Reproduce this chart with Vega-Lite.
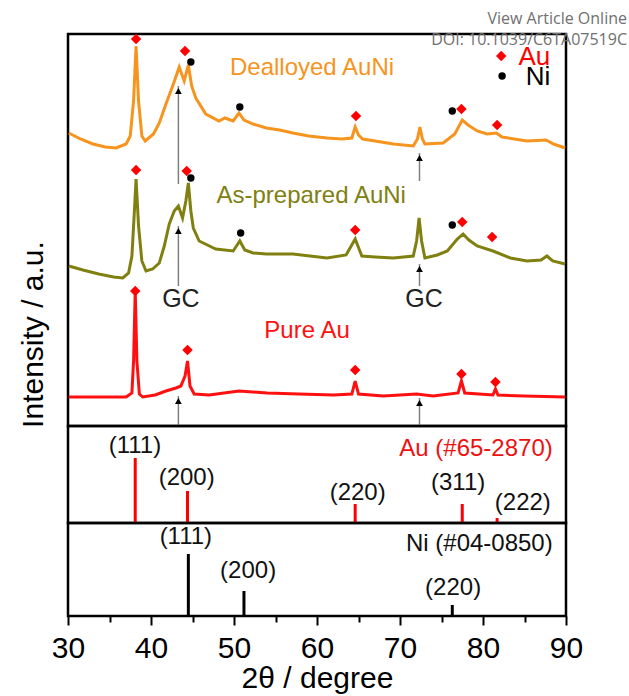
{
  "$schema": "https://vega.github.io/schema/vega-lite/v6.json",
  "padding": {"left": 16, "top": 9, "right": 1, "bottom": 0},
  "spacing": 0,
  "bounds": "flush",
  "config": {
    "view": {"stroke": "#000", "strokeWidth": 2.5},
    "font": "Liberation Sans",
    "text": {"font": "Liberation Sans"},
    "axisY": {"labels": false, "ticks": false, "domain": false, "grid": false},
    "axisX": {"grid": false, "domain": false}
  },
  "datasets": {
    "curves": [
      {"sample": "Dealloyed AuNi", "two_theta": 30.1, "intensity": 293},
      {"sample": "Dealloyed AuNi", "two_theta": 31.5, "intensity": 287},
      {"sample": "Dealloyed AuNi", "two_theta": 33.0, "intensity": 282},
      {"sample": "Dealloyed AuNi", "two_theta": 34.5, "intensity": 279},
      {"sample": "Dealloyed AuNi", "two_theta": 35.8, "intensity": 278},
      {"sample": "Dealloyed AuNi", "two_theta": 37.0, "intensity": 282},
      {"sample": "Dealloyed AuNi", "two_theta": 37.5, "intensity": 290},
      {"sample": "Dealloyed AuNi", "two_theta": 37.9, "intensity": 325},
      {"sample": "Dealloyed AuNi", "two_theta": 38.2, "intensity": 380},
      {"sample": "Dealloyed AuNi", "two_theta": 38.5, "intensity": 325},
      {"sample": "Dealloyed AuNi", "two_theta": 38.9, "intensity": 290},
      {"sample": "Dealloyed AuNi", "two_theta": 39.3, "intensity": 285},
      {"sample": "Dealloyed AuNi", "two_theta": 40.3, "intensity": 292},
      {"sample": "Dealloyed AuNi", "two_theta": 41.0, "intensity": 303},
      {"sample": "Dealloyed AuNi", "two_theta": 41.8, "intensity": 322},
      {"sample": "Dealloyed AuNi", "two_theta": 42.7, "intensity": 342},
      {"sample": "Dealloyed AuNi", "two_theta": 43.4, "intensity": 359},
      {"sample": "Dealloyed AuNi", "two_theta": 44.0, "intensity": 345},
      {"sample": "Dealloyed AuNi", "two_theta": 44.5, "intensity": 361},
      {"sample": "Dealloyed AuNi", "two_theta": 44.9, "intensity": 340},
      {"sample": "Dealloyed AuNi", "two_theta": 45.4, "intensity": 328},
      {"sample": "Dealloyed AuNi", "two_theta": 46.6, "intensity": 312},
      {"sample": "Dealloyed AuNi", "two_theta": 48.2, "intensity": 305},
      {"sample": "Dealloyed AuNi", "two_theta": 48.9, "intensity": 308},
      {"sample": "Dealloyed AuNi", "two_theta": 49.9, "intensity": 305},
      {"sample": "Dealloyed AuNi", "two_theta": 50.6, "intensity": 313},
      {"sample": "Dealloyed AuNi", "two_theta": 51.2, "intensity": 306},
      {"sample": "Dealloyed AuNi", "two_theta": 52.3, "intensity": 302},
      {"sample": "Dealloyed AuNi", "two_theta": 53.9, "intensity": 298},
      {"sample": "Dealloyed AuNi", "two_theta": 55.5, "intensity": 296},
      {"sample": "Dealloyed AuNi", "two_theta": 57.1, "intensity": 293},
      {"sample": "Dealloyed AuNi", "two_theta": 59.0, "intensity": 290},
      {"sample": "Dealloyed AuNi", "two_theta": 61.2, "intensity": 288},
      {"sample": "Dealloyed AuNi", "two_theta": 63.0, "intensity": 287},
      {"sample": "Dealloyed AuNi", "two_theta": 64.2, "intensity": 288},
      {"sample": "Dealloyed AuNi", "two_theta": 64.6, "intensity": 299},
      {"sample": "Dealloyed AuNi", "two_theta": 65.0, "intensity": 291},
      {"sample": "Dealloyed AuNi", "two_theta": 65.5, "intensity": 287},
      {"sample": "Dealloyed AuNi", "two_theta": 67.0, "intensity": 285},
      {"sample": "Dealloyed AuNi", "two_theta": 69.2, "intensity": 282},
      {"sample": "Dealloyed AuNi", "two_theta": 71.6, "intensity": 280},
      {"sample": "Dealloyed AuNi", "two_theta": 72.1, "intensity": 287},
      {"sample": "Dealloyed AuNi", "two_theta": 72.4, "intensity": 299},
      {"sample": "Dealloyed AuNi", "two_theta": 72.7, "intensity": 287},
      {"sample": "Dealloyed AuNi", "two_theta": 73.0, "intensity": 282},
      {"sample": "Dealloyed AuNi", "two_theta": 75.2, "intensity": 283},
      {"sample": "Dealloyed AuNi", "two_theta": 76.6, "intensity": 292},
      {"sample": "Dealloyed AuNi", "two_theta": 77.5, "intensity": 306},
      {"sample": "Dealloyed AuNi", "two_theta": 78.2, "intensity": 301},
      {"sample": "Dealloyed AuNi", "two_theta": 79.3, "intensity": 295},
      {"sample": "Dealloyed AuNi", "two_theta": 80.5, "intensity": 292},
      {"sample": "Dealloyed AuNi", "two_theta": 81.6, "intensity": 293},
      {"sample": "Dealloyed AuNi", "two_theta": 82.3, "intensity": 289},
      {"sample": "Dealloyed AuNi", "two_theta": 85.3, "intensity": 285},
      {"sample": "Dealloyed AuNi", "two_theta": 87.6, "intensity": 286},
      {"sample": "Dealloyed AuNi", "two_theta": 88.5, "intensity": 282},
      {"sample": "Dealloyed AuNi", "two_theta": 89.9, "intensity": 278},
      {"sample": "As-prepared AuNi", "two_theta": 30.1, "intensity": 160},
      {"sample": "As-prepared AuNi", "two_theta": 31.8, "intensity": 156},
      {"sample": "As-prepared AuNi", "two_theta": 33.7, "intensity": 152},
      {"sample": "As-prepared AuNi", "two_theta": 35.5, "intensity": 149},
      {"sample": "As-prepared AuNi", "two_theta": 36.6, "intensity": 148},
      {"sample": "As-prepared AuNi", "two_theta": 37.3, "intensity": 153},
      {"sample": "As-prepared AuNi", "two_theta": 37.7, "intensity": 170},
      {"sample": "As-prepared AuNi", "two_theta": 38.0, "intensity": 215},
      {"sample": "As-prepared AuNi", "two_theta": 38.2, "intensity": 247},
      {"sample": "As-prepared AuNi", "two_theta": 38.5, "intensity": 200},
      {"sample": "As-prepared AuNi", "two_theta": 38.9, "intensity": 165},
      {"sample": "As-prepared AuNi", "two_theta": 39.4, "intensity": 155},
      {"sample": "As-prepared AuNi", "two_theta": 40.2, "intensity": 157},
      {"sample": "As-prepared AuNi", "two_theta": 41.0, "intensity": 163},
      {"sample": "As-prepared AuNi", "two_theta": 41.6, "intensity": 180},
      {"sample": "As-prepared AuNi", "two_theta": 42.2, "intensity": 202},
      {"sample": "As-prepared AuNi", "two_theta": 42.8, "intensity": 215},
      {"sample": "As-prepared AuNi", "two_theta": 43.3, "intensity": 220},
      {"sample": "As-prepared AuNi", "two_theta": 43.8, "intensity": 208},
      {"sample": "As-prepared AuNi", "two_theta": 44.2, "intensity": 225},
      {"sample": "As-prepared AuNi", "two_theta": 44.5, "intensity": 243},
      {"sample": "As-prepared AuNi", "two_theta": 44.8, "intensity": 215},
      {"sample": "As-prepared AuNi", "two_theta": 45.1, "intensity": 198},
      {"sample": "As-prepared AuNi", "two_theta": 45.8, "intensity": 185},
      {"sample": "As-prepared AuNi", "two_theta": 47.8, "intensity": 177},
      {"sample": "As-prepared AuNi", "two_theta": 49.9, "intensity": 175},
      {"sample": "As-prepared AuNi", "two_theta": 50.7, "intensity": 185},
      {"sample": "As-prepared AuNi", "two_theta": 51.3, "intensity": 176},
      {"sample": "As-prepared AuNi", "two_theta": 52.3, "intensity": 173},
      {"sample": "As-prepared AuNi", "two_theta": 53.9, "intensity": 172},
      {"sample": "As-prepared AuNi", "two_theta": 57.1, "intensity": 172},
      {"sample": "As-prepared AuNi", "two_theta": 61.2, "intensity": 168},
      {"sample": "As-prepared AuNi", "two_theta": 63.5, "intensity": 171},
      {"sample": "As-prepared AuNi", "two_theta": 64.6, "intensity": 187},
      {"sample": "As-prepared AuNi", "two_theta": 65.4, "intensity": 170},
      {"sample": "As-prepared AuNi", "two_theta": 67.0, "intensity": 169},
      {"sample": "As-prepared AuNi", "two_theta": 69.2, "intensity": 168},
      {"sample": "As-prepared AuNi", "two_theta": 71.6, "intensity": 170},
      {"sample": "As-prepared AuNi", "two_theta": 72.0, "intensity": 185},
      {"sample": "As-prepared AuNi", "two_theta": 72.3, "intensity": 208},
      {"sample": "As-prepared AuNi", "two_theta": 72.6, "intensity": 185},
      {"sample": "As-prepared AuNi", "two_theta": 73.0, "intensity": 168},
      {"sample": "As-prepared AuNi", "two_theta": 74.5, "intensity": 171},
      {"sample": "As-prepared AuNi", "two_theta": 75.7, "intensity": 175},
      {"sample": "As-prepared AuNi", "two_theta": 76.9, "intensity": 187},
      {"sample": "As-prepared AuNi", "two_theta": 77.6, "intensity": 192},
      {"sample": "As-prepared AuNi", "two_theta": 78.3, "intensity": 186},
      {"sample": "As-prepared AuNi", "two_theta": 79.3, "intensity": 180},
      {"sample": "As-prepared AuNi", "two_theta": 81.2, "intensity": 175},
      {"sample": "As-prepared AuNi", "two_theta": 83.3, "intensity": 168},
      {"sample": "As-prepared AuNi", "two_theta": 85.3, "intensity": 165},
      {"sample": "As-prepared AuNi", "two_theta": 87.0, "intensity": 166},
      {"sample": "As-prepared AuNi", "two_theta": 87.7, "intensity": 170},
      {"sample": "As-prepared AuNi", "two_theta": 88.4, "intensity": 165},
      {"sample": "As-prepared AuNi", "two_theta": 89.9, "intensity": 162},
      {"sample": "Pure Au", "two_theta": 30.1, "intensity": 29},
      {"sample": "Pure Au", "two_theta": 35.0, "intensity": 29},
      {"sample": "Pure Au", "two_theta": 37.0, "intensity": 29},
      {"sample": "Pure Au", "two_theta": 37.7, "intensity": 33},
      {"sample": "Pure Au", "two_theta": 37.9, "intensity": 65},
      {"sample": "Pure Au", "two_theta": 38.1, "intensity": 135},
      {"sample": "Pure Au", "two_theta": 38.3, "intensity": 65},
      {"sample": "Pure Au", "two_theta": 38.6, "intensity": 32},
      {"sample": "Pure Au", "two_theta": 39.0, "intensity": 29},
      {"sample": "Pure Au", "two_theta": 40.5, "intensity": 31},
      {"sample": "Pure Au", "two_theta": 41.8, "intensity": 35},
      {"sample": "Pure Au", "two_theta": 43.0, "intensity": 38},
      {"sample": "Pure Au", "two_theta": 43.6, "intensity": 40},
      {"sample": "Pure Au", "two_theta": 44.1, "intensity": 50},
      {"sample": "Pure Au", "two_theta": 44.4, "intensity": 65},
      {"sample": "Pure Au", "two_theta": 44.7, "intensity": 40},
      {"sample": "Pure Au", "two_theta": 45.2, "intensity": 32},
      {"sample": "Pure Au", "two_theta": 47.0, "intensity": 31},
      {"sample": "Pure Au", "two_theta": 50.6, "intensity": 35},
      {"sample": "Pure Au", "two_theta": 54.0, "intensity": 33},
      {"sample": "Pure Au", "two_theta": 57.8, "intensity": 32},
      {"sample": "Pure Au", "two_theta": 62.0, "intensity": 31},
      {"sample": "Pure Au", "two_theta": 64.2, "intensity": 32},
      {"sample": "Pure Au", "two_theta": 64.6, "intensity": 45},
      {"sample": "Pure Au", "two_theta": 65.0, "intensity": 32},
      {"sample": "Pure Au", "two_theta": 68.0, "intensity": 30},
      {"sample": "Pure Au", "two_theta": 72.0, "intensity": 32},
      {"sample": "Pure Au", "two_theta": 74.0, "intensity": 30},
      {"sample": "Pure Au", "two_theta": 77.0, "intensity": 33},
      {"sample": "Pure Au", "two_theta": 77.4, "intensity": 45},
      {"sample": "Pure Au", "two_theta": 77.8, "intensity": 33},
      {"sample": "Pure Au", "two_theta": 81.2, "intensity": 31},
      {"sample": "Pure Au", "two_theta": 81.5, "intensity": 37},
      {"sample": "Pure Au", "two_theta": 81.8, "intensity": 31},
      {"sample": "Pure Au", "two_theta": 85.0, "intensity": 30},
      {"sample": "Pure Au", "two_theta": 89.9, "intensity": 29}
    ],
    "markers": [
      {"phase": "Au", "two_theta": 38.2, "intensity": 387},
      {"phase": "Au", "two_theta": 44.1, "intensity": 375},
      {"phase": "Ni", "two_theta": 44.8, "intensity": 364},
      {"phase": "Ni", "two_theta": 50.7, "intensity": 319},
      {"phase": "Au", "two_theta": 64.7, "intensity": 310},
      {"phase": "Ni", "two_theta": 76.3, "intensity": 315},
      {"phase": "Au", "two_theta": 77.4, "intensity": 317},
      {"phase": "Au", "two_theta": 81.7, "intensity": 301},
      {"phase": "Au", "two_theta": 38.2, "intensity": 256},
      {"phase": "Au", "two_theta": 44.3, "intensity": 255},
      {"phase": "Ni", "two_theta": 44.8, "intensity": 248},
      {"phase": "Ni", "two_theta": 50.8, "intensity": 193},
      {"phase": "Au", "two_theta": 64.6, "intensity": 196},
      {"phase": "Ni", "two_theta": 76.3, "intensity": 201},
      {"phase": "Au", "two_theta": 77.5, "intensity": 204},
      {"phase": "Au", "two_theta": 81.1, "intensity": 189},
      {"phase": "Au", "two_theta": 38.1, "intensity": 135},
      {"phase": "Au", "two_theta": 44.4, "intensity": 76},
      {"phase": "Au", "two_theta": 64.6, "intensity": 56},
      {"phase": "Au", "two_theta": 77.4, "intensity": 52},
      {"phase": "Au", "two_theta": 81.5, "intensity": 44},
      {"phase": "Au", "two_theta": 82.2, "intensity": 370},
      {"phase": "Ni", "two_theta": 82.3, "intensity": 350}
    ],
    "arrows": [
      {"two_theta": 43.3, "tip": 340, "base": 242},
      {"two_theta": 43.3, "tip": 200, "base": 140},
      {"two_theta": 43.3, "tip": 30, "base": 0},
      {"two_theta": 72.35, "tip": 273, "base": 245},
      {"two_theta": 72.35, "tip": 162, "base": 140},
      {"two_theta": 72.35, "tip": 28, "base": 0}
    ],
    "au_ref": [
      {"hkl": "(111)", "two_theta": 38.1, "rel": 65, "label_x": 38.07, "label_y": 77},
      {"hkl": "(200)", "two_theta": 44.4, "rel": 32, "label_x": 44.3, "label_y": 45},
      {"hkl": "(220)", "two_theta": 64.6, "rel": 19, "label_x": 64.9, "label_y": 30},
      {"hkl": "(311)", "two_theta": 77.5, "rel": 19, "label_x": 77.0, "label_y": 40},
      {"hkl": "(222)", "two_theta": 81.7, "rel": 5, "label_x": 84.8, "label_y": 20}
    ],
    "ni_ref": [
      {"hkl": "(111)", "two_theta": 44.5, "rel": 62, "label_x": 44.2, "label_y": 79},
      {"hkl": "(200)", "two_theta": 51.2, "rel": 25, "label_x": 51.7, "label_y": 45},
      {"hkl": "(220)", "two_theta": 76.3, "rel": 11, "label_x": 76.4, "label_y": 28}
    ]
  },
  "vconcat": [
    {
      "width": 498,
      "height": 392,
      "layer": [
        {
          "data": {"name": "curves"},
          "mark": {"type": "line", "strokeWidth": 3, "clip": true},
          "encoding": {
            "x": {"field": "two_theta", "type": "quantitative", "scale": {"domain": [30, 90], "nice": false, "zero": false}, "axis": null},
            "y": {"field": "intensity", "type": "quantitative", "scale": {"domain": [0, 392], "nice": false},
              "axis": {"title": "Intensity / a.u.",
                "titleFont": "Liberation Sans", "titleFontSize": 30, "titleFontWeight": "normal", "titleColor": "#000",
                "titleX": -35, "titleY": 300, "titleAngle": -90, "titleAlign": "center", "titleBaseline": "middle"}},
            "color": {"field": "sample", "type": "nominal", "scale": {"domain": ["Dealloyed AuNi", "As-prepared AuNi", "Pure Au"], "range": ["#F7941D", "#808010", "#FF1010"]}, "legend": null}
          }
        },
        {
          "data": {"name": "arrows"},
          "mark": {"type": "rule", "color": "#808080", "strokeWidth": 1.5},
          "encoding": {
            "x": {"field": "two_theta", "type": "quantitative", "axis": null},
            "y": {"field": "tip", "type": "quantitative"},
            "y2": {"field": "base"}
          }
        },
        {
          "data": {"name": "arrows"},
          "mark": {"type": "point", "shape": "triangle-up", "filled": true, "color": "#000", "size": 45, "opacity": 1, "yOffset": 5},
          "encoding": {
            "x": {"field": "two_theta", "type": "quantitative", "axis": null},
            "y": {"field": "tip", "type": "quantitative"}
          }
        },
        {
          "data": {"name": "markers"},
          "transform": [{"filter": "datum.phase === 'Au'"}],
          "mark": {"type": "point", "shape": "diamond", "filled": true, "opacity": 1, "color": "#FF0000", "size": 110},
          "encoding": {
            "x": {"field": "two_theta", "type": "quantitative", "axis": null},
            "y": {"field": "intensity", "type": "quantitative"}
          }
        },
        {
          "data": {"name": "markers"},
          "transform": [{"filter": "datum.phase === 'Ni'"}],
          "mark": {"type": "point", "shape": "circle", "filled": true, "opacity": 1, "color": "#000000", "size": 55},
          "encoding": {
            "x": {"field": "two_theta", "type": "quantitative", "axis": null},
            "y": {"field": "intensity", "type": "quantitative"}
          }
        },
        {
          "data": {"values": [
            {"text": "Dealloyed AuNi", "two_theta": 59.4, "intensity": 358, "sample": "Dealloyed AuNi"},
            {"text": "As-prepared AuNi", "two_theta": 59.3, "intensity": 230, "sample": "As-prepared AuNi"},
            {"text": "Pure Au", "two_theta": 58.8, "intensity": 95, "sample": "Pure Au"}
          ]},
          "mark": {"type": "text", "fontSize": 24, "font": "Liberation Sans", "align": "center", "baseline": "middle"},
          "encoding": {
            "x": {"field": "two_theta", "type": "quantitative", "axis": null},
            "y": {"field": "intensity", "type": "quantitative"},
            "text": {"field": "text"},
            "color": {"field": "sample", "type": "nominal", "legend": null}
          }
        },
        {
          "data": {"values": [
            {"text": "GC", "two_theta": 43.6, "intensity": 127},
            {"text": "GC", "two_theta": 72.9, "intensity": 127}
          ]},
          "mark": {"type": "text", "fontSize": 25, "font": "Liberation Sans", "align": "center", "baseline": "middle", "color": "#222"},
          "encoding": {
            "x": {"field": "two_theta", "type": "quantitative", "axis": null},
            "y": {"field": "intensity", "type": "quantitative"},
            "text": {"field": "text"}
          }
        },
        {
          "data": {"values": [{"text": "Au", "two_theta": 88.1, "intensity": 369}]},
          "mark": {"type": "text", "fontSize": 26, "font": "Liberation Sans", "align": "right", "baseline": "middle", "color": "#FF0000"},
          "encoding": {
            "x": {"field": "two_theta", "type": "quantitative", "axis": null},
            "y": {"field": "intensity", "type": "quantitative"},
            "text": {"field": "text"}
          }
        },
        {
          "data": {"values": [{"text": "Ni", "two_theta": 88.1, "intensity": 349}]},
          "mark": {"type": "text", "fontSize": 26, "font": "Liberation Sans", "align": "right", "baseline": "middle", "color": "#000000"},
          "encoding": {
            "x": {"field": "two_theta", "type": "quantitative", "axis": null},
            "y": {"field": "intensity", "type": "quantitative"},
            "text": {"field": "text"}
          }
        },
        {
          "data": {"values": [
            {"text": "View Article Online", "two_theta": 97.35, "intensity": 407},
            {"text": "DOI: 10.1039/C6TA07519C", "two_theta": 97.35, "intensity": 386}
          ]},
          "mark": {"type": "text", "fontSize": 16, "font": "Open Sans", "align": "right", "baseline": "middle", "color": "#707070"},
          "encoding": {
            "x": {"field": "two_theta", "type": "quantitative", "axis": null},
            "y": {"field": "intensity", "type": "quantitative"},
            "text": {"field": "text"}
          }
        }
      ]
    },
    {
      "width": 498,
      "height": 97,
      "data": {"name": "au_ref"},
      "layer": [
        {
          "mark": {"type": "rule", "color": "#FF0000", "strokeWidth": 3},
          "encoding": {
            "x": {"field": "two_theta", "type": "quantitative", "scale": {"domain": [30, 90], "nice": false, "zero": false}, "axis": null},
            "y": {"field": "rel", "type": "quantitative", "scale": {"domain": [0, 97], "nice": false}, "axis": null},
            "y2": {"datum": 0}
          }
        },
        {
          "mark": {"type": "text", "fontSize": 24, "font": "Liberation Sans", "align": "center", "baseline": "middle", "color": "#111"},
          "encoding": {
            "x": {"field": "label_x", "type": "quantitative", "axis": null},
            "y": {"field": "label_y", "type": "quantitative", "axis": null},
            "text": {"field": "hkl"}
          }
        },
        {
          "data": {"values": [{"text": "Au (#65-2870)", "two_theta": 88.4, "rel": 74}]},
          "mark": {"type": "text", "fontSize": 24, "font": "Liberation Sans", "align": "right", "baseline": "middle", "color": "#EE1111"},
          "encoding": {
            "x": {"field": "two_theta", "type": "quantitative", "axis": null},
            "y": {"field": "rel", "type": "quantitative", "axis": null},
            "text": {"field": "text"}
          }
        }
      ]
    },
    {
      "width": 498,
      "height": 93,
      "data": {"name": "ni_ref"},
      "layer": [
        {
          "mark": {"type": "rule", "color": "#000000", "strokeWidth": 3},
          "encoding": {
            "x": {"field": "two_theta", "type": "quantitative", "scale": {"domain": [30, 90], "nice": false, "zero": false},
              "axis": {"title": "2θ / degree", "values": [30, 35, 40, 45, 50, 55, 60, 65, 70, 75, 80, 85, 90],
                "labelExpr": "datum.value % 10 === 0 ? datum.label : ''",
                "tickColor": "#000", "tickWidth": 2,
                "tickSize": {"condition": {"test": "datum.value % 10 === 0", "value": 9}, "value": 6},
                "labelFont": "Liberation Sans", "labelFontSize": 30, "labelColor": "#000", "labelPadding": 8, "labelFlush": false,
                "titleFont": "Liberation Sans", "titleFontSize": 30, "titleFontWeight": "normal", "titleColor": "#000", "titlePadding": 0}},
            "y": {"field": "rel", "type": "quantitative", "scale": {"domain": [0, 93], "nice": false}, "axis": null},
            "y2": {"datum": 0}
          }
        },
        {
          "mark": {"type": "text", "fontSize": 24, "font": "Liberation Sans", "align": "center", "baseline": "middle", "color": "#111"},
          "encoding": {
            "x": {"field": "label_x", "type": "quantitative"},
            "y": {"field": "label_y", "type": "quantitative", "axis": null},
            "text": {"field": "hkl"}
          }
        },
        {
          "data": {"values": [{"text": "Ni (#04-0850)", "two_theta": 88.4, "rel": 72}]},
          "mark": {"type": "text", "fontSize": 24, "font": "Liberation Sans", "align": "right", "baseline": "middle", "color": "#111"},
          "encoding": {
            "x": {"field": "two_theta", "type": "quantitative"},
            "y": {"field": "rel", "type": "quantitative", "axis": null},
            "text": {"field": "text"}
          }
        }
      ]
    }
  ]
}
